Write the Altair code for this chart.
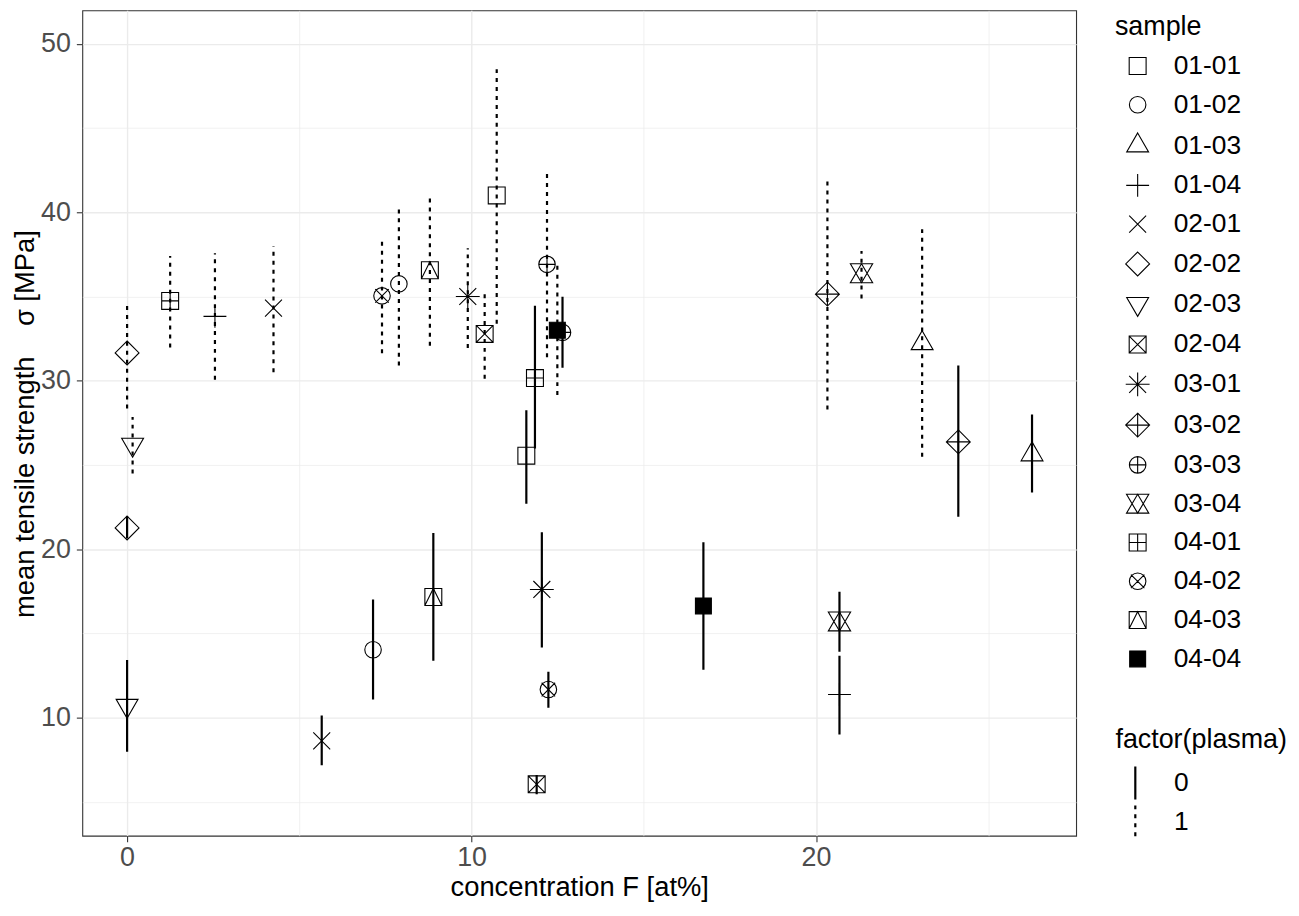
import altair as alt
import pandas as pd

# ---- data ----
samples = ["01-01", "01-02", "01-03", "01-04", "02-01", "02-02", "02-03", "02-04",
           "03-01", "03-02", "03-03", "03-04", "04-01", "04-02", "04-03", "04-04"]

# each sample: plasma 0 first, then plasma 1
sample_col = [s for s in samples for _ in range(2)]
plasma_col = ["0", "1"] * 16

conc = [11.59, 10.73, 7.14, 7.89, 26.27, 23.08, 20.68, 2.55,
        5.65, 4.25, 0.0, 0.0, 0.0, 0.16, 11.89, 10.38,
        12.04, 9.89, 24.13, 20.33, 12.64, 12.19, 20.68, 21.32,
        11.84, 1.25, 12.23, 7.40, 8.89, 8.79, 16.73, 12.49]

strength = [25.55, 41.00, 14.03, 35.75, 25.62, 32.22, 11.37, 33.82,
            8.62, 34.31, 21.26, 31.65, 10.71, 26.21, 6.04, 32.78,
            17.61, 35.00, 26.37, 35.14, 32.87, 36.91, 15.71, 36.38,
            30.16, 34.74, 11.67, 35.04, 17.16, 36.56, 16.63, 33.00]

lower = [22.70, 33.38, 11.08, 30.90, 23.36, 25.49, 9.00, 30.06,
         7.18, 30.51, 20.63, 28.35, 7.97, 24.50, 5.45, 30.12,
         14.17, 31.95, 21.93, 28.30, 30.77, 31.40, 13.91, 34.88,
         25.98, 31.98, 10.59, 31.63, 13.38, 32.08, 12.85, 29.15]

upper = [28.25, 48.62, 17.02, 40.47, 27.99, 39.00, 13.67, 37.57,
         10.13, 37.98, 21.95, 34.74, 13.42, 27.85, 6.59, 35.43,
         21.00, 37.86, 30.90, 41.95, 34.98, 42.42, 17.48, 37.70,
         34.45, 37.40, 12.73, 38.54, 20.96, 40.99, 20.41, 36.92]

df = pd.DataFrame({
    "sample": sample_col,
    "plasma": plasma_col,
    "conc": conc,
    "strength": strength,
    "lower": lower,
    "upper": upper,
})

# ggplot-like point shapes 0..15 as SVG paths (unit box -1..1)
SQ = "M-0.85,-0.85H0.85V0.85H-0.85Z"
CI = "M0.83,0A0.83,0.83,0,1,1,-0.83,0A0.83,0.83,0,1,1,0.83,0Z"
DI = "M0,-1.2L1.2,0L0,1.2L-1.2,0Z"
shape_paths = [
    SQ,                                                     # 0 square
    CI,                                                     # 1 circle
    "M0,-1.27L1.1,0.635L-1.1,0.635Z",                       # 2 triangle up
    "M-1.15,0H1.15M0,-1.15V1.15",                           # 3 plus
    "M-0.85,-0.85L0.85,0.85M-0.85,0.85L0.85,-0.85",         # 4 cross
    DI,                                                     # 5 diamond
    "M0,1.27L1.1,-0.635L-1.1,-0.635Z",                      # 6 triangle down
    SQ + "M-0.85,-0.85L0.85,0.85M-0.85,0.85L0.85,-0.85",    # 7 square cross
    "M-1.2,0H1.2M0,-1.2V1.2M-0.85,-0.85L0.85,0.85M-0.85,0.85L0.85,-0.85",  # 8 asterisk
    DI + "M-1.2,0H1.2M0,-1.2V1.2",                          # 9 diamond plus
    CI + "M-0.83,0H0.83M0,-0.83V0.83",                      # 10 circle plus
    "M-1.12,-0.95H1.12L0,0.95ZM-1.12,0.95H1.12L0,-0.95Z",   # 11 star of David
    SQ + "M-0.85,0H0.85M0,-0.85V0.85",                      # 12 square plus
    CI + "M-0.68,-0.68L0.68,0.68M-0.68,0.68L0.68,-0.68",    # 13 circle cross
    SQ + "M-0.85,0.85L0,-0.85L0.85,0.85",                   # 14 square triangle
    "M-0.8,-0.8H0.8V0.8H-0.8Z",                             # 15 filled square
]
fill_colors = ["transparent"] * 15 + ["black"]
stroke_colors = ["black"] * 16

FONT = "Liberation Sans"
MAJOR = "datum.value % 10 === 0"
NB = "\u00a0"

x_scale = alt.Scale(domain=[-1.30, 27.55], nice=False, zero=False)
y_scale = alt.Scale(domain=[2.99, 51.99], nice=False, zero=False)

common_axis = dict(
    grid=True,
    gridColor="#EBEBEB",
    gridWidth={"condition": {"test": MAJOR, "value": 1.4}, "value": 0.7},
    tickOpacity={"condition": {"test": MAJOR, "value": 1}, "value": 0},
    tickColor="#333333",
    tickWidth=1.1,
    tickSize=6,
    domain=False,
    labelExpr=f"{MAJOR} ? datum.label : ''",
    labelFont=FONT,
    labelFontSize=27,
    labelColor="#4D4D4D",
    titleFont=FONT,
    titleFontSize=27.5,
    titleFontWeight="normal",
    titleColor="black",
    labelOverlap=False,
)

x_axis = alt.Axis(
    values=[0, 5, 10, 15, 20, 25],
    title="concentration F [at%]",
    labelPadding=2.5,
    titleY=60.3,
    titleBaseline="alphabetic",
    **common_axis,
)
y_axis = alt.Axis(
    values=[5, 10, 15, 20, 25, 30, 35, 40, 45, 50],
    title=f"mean tensile strength{NB}{NB}{NB}{NB}σ{NB}[MPa]",
    labelPadding=6,
    titleX=-49.3,
    titleY=415.4,
    titleAngle=270,
    titleBaseline="alphabetic",
    **common_axis,
)

legend_common = dict(
    orient="none",
    titleFont=FONT,
    titleFontSize=27,
    titleFontWeight="normal",
    titleColor="black",
    labelFont=FONT,
    labelFontSize=26.5,
    labelColor="black",
    padding=0,
)

sample_legend = alt.Legend(
    title="sample",
    legendX=1038,
    legendY=3.7,
    symbolSize=400,
    symbolStrokeWidth=1.1,
    symbolStrokeColor="black",
    rowPadding=12,
    titlePadding=12,
    symbolOffset=9.6,
    labelOffset=23,
    **legend_common,
)

plasma_legend = alt.Legend(
    title="factor(plasma)",
    legendX=1038.5,
    legendY=720.7,
    symbolType="M0,-1L0,1",
    symbolSize=1089,
    symbolStrokeWidth=2.2,
    symbolStrokeColor="black",
    rowPadding=-6,
    titlePadding=11,
    symbolOffset=2,
    labelOffset=21,
    **legend_common,
)

rules = alt.Chart(df).mark_rule(color="black", strokeWidth=2.2).encode(
    x=alt.X("conc:Q", scale=x_scale, axis=x_axis),
    y=alt.Y("lower:Q", scale=y_scale, axis=y_axis),
    y2="upper:Q",
    strokeDash=alt.StrokeDash(
        "plasma:N",
        scale=alt.Scale(domain=["0", "1"], range=[[1, 0], [4, 5]]),
        legend=plasma_legend,
    ),
)

points = alt.Chart(df).mark_point(
    filled=False, size=400, strokeWidth=1.1, opacity=1
).encode(
    x=alt.X("conc:Q", scale=x_scale, axis=x_axis),
    y=alt.Y("strength:Q", scale=y_scale, axis=y_axis),
    shape=alt.Shape("sample:N", scale=alt.Scale(domain=samples, range=shape_paths),
                    legend=sample_legend),
    fill=alt.Fill("sample:N", scale=alt.Scale(domain=samples, range=fill_colors),
                  legend=sample_legend),
    stroke=alt.Stroke("sample:N", scale=alt.Scale(domain=samples, range=stroke_colors),
                      legend=sample_legend),
)

chart = alt.layer(rules, points).properties(
    width=999,
    height=829.7,
    autosize="none",
    padding={"left": 74.7, "top": 0, "right": 216, "bottom": 66.3},
).configure(
    font=FONT,
).configure_view(
    stroke="#333333",
    strokeWidth=1.1,
)

chart.save("out.html", embed_options={"renderer": "svg", "actions": False})
